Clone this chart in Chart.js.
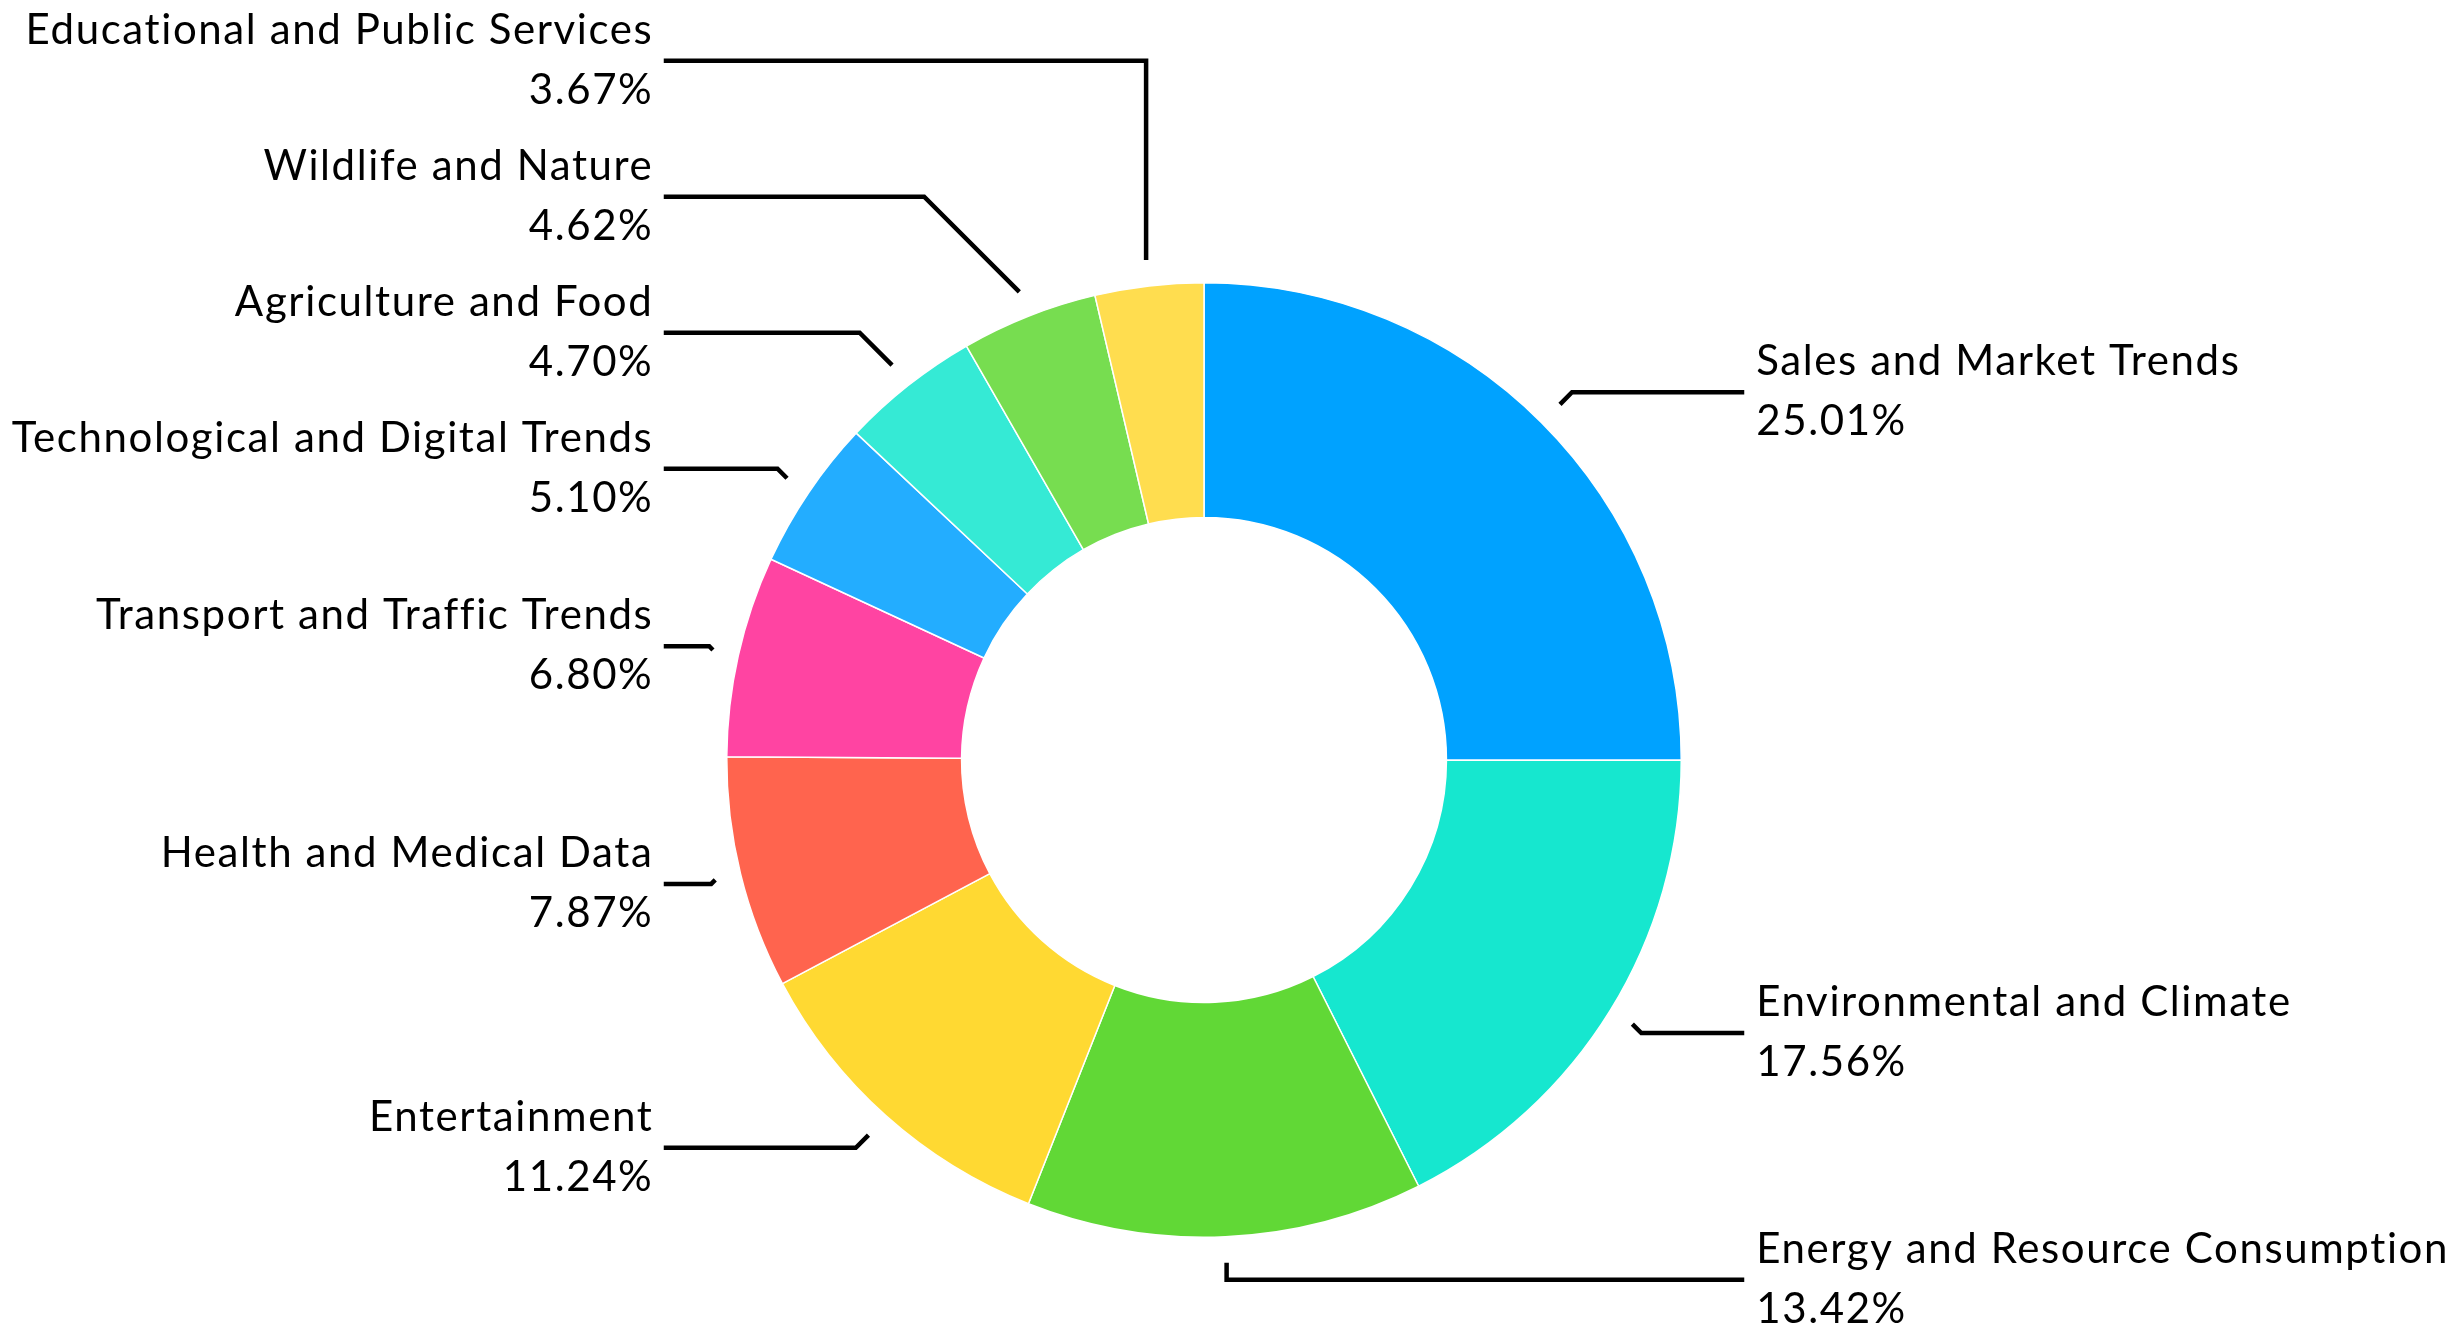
<!DOCTYPE html>
<html>
<head>
<meta charset="utf-8">
<title>Dataset topics</title>
<script src="https://cdn.jsdelivr.net/npm/chart.js@4.4.1/dist/chart.umd.min.js"></script>
<style>
  html, body { margin: 0; padding: 0; background: #fff; }
  #chart { display: block; width: 2464px; height: 1330px; }
</style>
</head>
<body>
<canvas id="chart" width="2464" height="1330"></canvas>
<script>
// slices, clockwise from 12 o'clock
const categories = [
  'Sales and Market Trends',
  'Environmental and Climate',
  'Energy and Resource Consumption',
  'Entertainment',
  'Health and Medical Data',
  'Transport and Traffic Trends',
  'Technological and Digital Trends',
  'Agriculture and Food',
  'Wildlife and Nature',
  'Educational and Public Services'
];
const shares = [25.01, 17.56, 13.42, 11.24, 7.87, 6.80, 5.10, 4.70, 4.62, 3.67];
const sliceColors = [
  '#00A2FF', '#16E7CF', '#61D836', '#FFD932', '#FF644E',
  '#FF44A2', '#23ADFF', '#35EAD5', '#77DD50', '#FFDD4F'
];

const LABEL_FONT = '42px Lato';
const LETTER_SPACING = 1.6;
const LABEL_GAP = 136;   // min vertical distance between two label blocks

// draws the callout lines and the two-line labels next to each slice
const leaderLabels = {
  id: 'leaderLabels',
  afterDatasetsDraw(chart) {
    const ctx = chart.ctx;
    const arcs = chart.getDatasetMeta(0).data;
    const values = chart.data.datasets[0].data;

    const items = arcs.map((arc, i) => {
      const a = (arc.startAngle + arc.endAngle) / 2;
      const dx = Math.cos(a);
      const dy = Math.sin(a);
      const r = arc.outerRadius;
      const side = dx >= 0 ? 1 : -1;
      return {
        i, dx, dy, side,
        ax: arc.x + dx * (r + 26),
        ay: arc.y + dy * (r + 26),
        y: arc.y + dy * (r + 43),
        endX: arc.x + side * (r + 63)
      };
    });

    // labels that would collide get pushed upwards
    [1, -1].forEach(side => {
      const group = items.filter(d => d.side === side).sort((p, q) => p.y - q.y);
      for (let k = group.length - 2; k >= 0; k--) {
        group[k].y = Math.min(group[k].y, group[k + 1].y - LABEL_GAP);
      }
    });

    ctx.save();
    ctx.strokeStyle = '#000';
    ctx.lineWidth = 4.5;
    ctx.lineJoin = 'miter';
    ctx.fillStyle = '#000';
    ctx.font = LABEL_FONT;
    ctx.letterSpacing = LETTER_SPACING + 'px';

    items.forEach(d => {
      const rise = Math.abs(d.y - d.ay);
      const elbowX = Math.abs(d.dx) < 0.2 ? d.ax : d.ax + d.side * rise;

      ctx.beginPath();
      ctx.moveTo(d.ax, d.ay);
      ctx.lineTo(elbowX, d.y);
      ctx.lineTo(d.endX, d.y);
      ctx.stroke();

      // right-aligned text carries the trailing letter spacing, take it back
      const tx = d.side > 0 ? d.endX + 12 : d.endX - 12 + LETTER_SPACING;
      ctx.textAlign = d.side > 0 ? 'left' : 'right';
      ctx.textBaseline = 'alphabetic';
      ctx.fillText(chart.data.labels[d.i], tx, d.y - 17);
      ctx.fillText(values[d.i].toFixed(2) + '%', tx, d.y + 43);
    });
    ctx.restore();
  }
};

new Chart(document.getElementById('chart'), {
  type: 'doughnut',
  data: {
    labels: categories,
    datasets: [{
      data: shares,
      backgroundColor: sliceColors,
      borderColor: '#ffffff',
      borderWidth: 1.5
    }]
  },
  options: {
    responsive: false,
    devicePixelRatio: 1,
    animation: false,
    cutout: '50.8%',
    layout: {
      padding: { left: 726, top: 282, right: 782, bottom: 92 }
    },
    plugins: {
      legend: { display: false },
      tooltip: { enabled: false }
    }
  },
  plugins: [leaderLabels]
});
</script>
</body>
</html>
